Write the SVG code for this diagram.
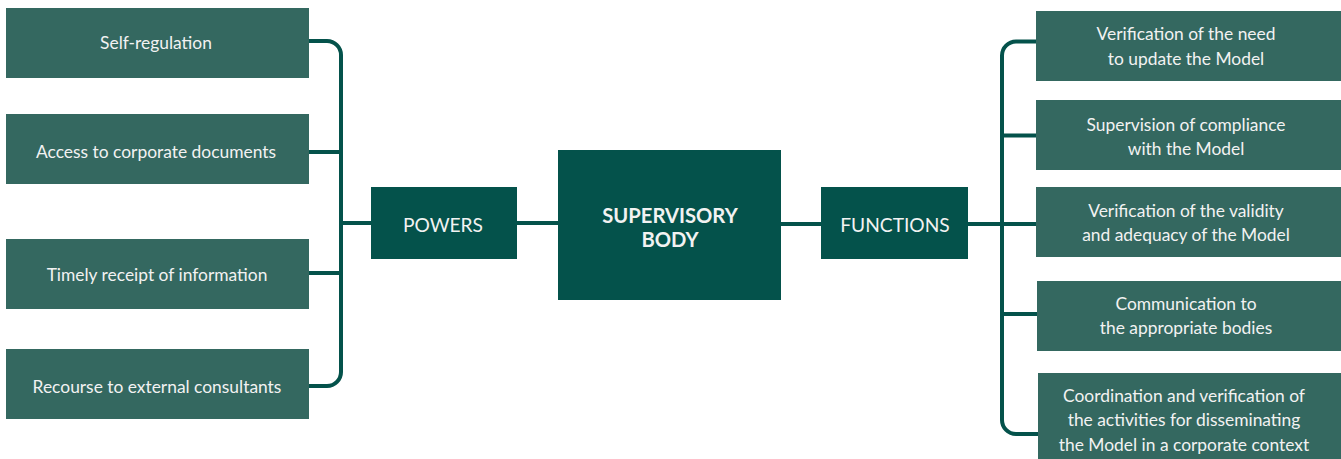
<svg xmlns="http://www.w3.org/2000/svg" width="1341" height="459" viewBox="0 0 1341 459">
<style>
.lb{fill:#346860}
.db{fill:#04524b}
.t{fill:#f2f2f2;font-family:Lato,"Open Sans",sans-serif;font-size:17.4px;text-anchor:middle}
.h{font-size:19.2px}
.b{font-weight:bold;font-size:20.2px}
.c{fill:none;stroke:#04524b;stroke-width:4}
</style>
<rect width="1341" height="459" fill="#ffffff"/>
<g id="connectors">
<path class="c" d="M309,41 H327 A14,14 0 0 1 341,55 V372 A14,14 0 0 1 327,386 H309"/>
<path class="c" d="M309,152 H341 M309,273 H341 M341,223 H371"/>
<path class="c" d="M517,223 H558 M781,224 H821"/>
<path class="c" d="M1036,41.5 H1016 A14,14 0 0 0 1002,55.5 V420 A14,14 0 0 0 1016,434 H1038"/>
<path class="c" d="M1002,135.5 H1036 M968,224 H1036 M1002,314 H1037"/>
</g>
<g id="self-regulation"><rect class="lb" x="6" y="8" width="303" height="70"/><text class="t" x="156" y="49">Self-regulation</text></g>
<g id="access"><rect class="lb" x="6" y="114" width="303" height="70"/><text class="t" x="156" y="158">Access to corporate documents</text></g>
<g id="timely"><rect class="lb" x="6" y="239" width="303" height="70"/><text class="t" x="157" y="281">Timely receipt of information</text></g>
<g id="recourse"><rect class="lb" x="6" y="349" width="303" height="70"/><text class="t" x="157" y="393">Recourse to external consultants</text></g>
<g id="powers"><rect class="db" x="371" y="187" width="146" height="72"/><text class="t h" x="443" y="232">POWERS</text></g>
<g id="supervisory-body"><rect class="db" x="558" y="150" width="223" height="150"/><text class="t b" x="670" y="223">SUPERVISORY</text><text class="t b" x="670" y="247">BODY</text></g>
<g id="functions"><rect class="db" x="821" y="187" width="147" height="72"/><text class="t h" x="895" y="232">FUNCTIONS</text></g>
<g id="verification-need"><rect class="lb" x="1036" y="11" width="305" height="70"/><text class="t" x="1186" y="40">Verification of the need</text><text class="t" x="1186" y="65">to update the Model</text></g>
<g id="supervision"><rect class="lb" x="1036" y="100" width="305" height="70"/><text class="t" x="1186" y="131">Supervision of compliance</text><text class="t" x="1186" y="155">with the Model</text></g>
<g id="validity"><rect class="lb" x="1036" y="187" width="305" height="70"/><text class="t" x="1186" y="217">Verification of the validity</text><text class="t" x="1186" y="241">and adequacy of the Model</text></g>
<g id="communication"><rect class="lb" x="1037" y="281" width="304" height="70"/><text class="t" x="1186" y="310">Communication to</text><text class="t" x="1186" y="334">the appropriate bodies</text></g>
<g id="coordination"><rect class="lb" x="1038" y="373" width="303" height="86"/><text class="t" x="1184" y="402">Coordination and verification of</text><text class="t" x="1184" y="426">the activities for disseminating</text><text class="t" x="1184" y="451">the Model in a corporate context</text></g>
</svg>
